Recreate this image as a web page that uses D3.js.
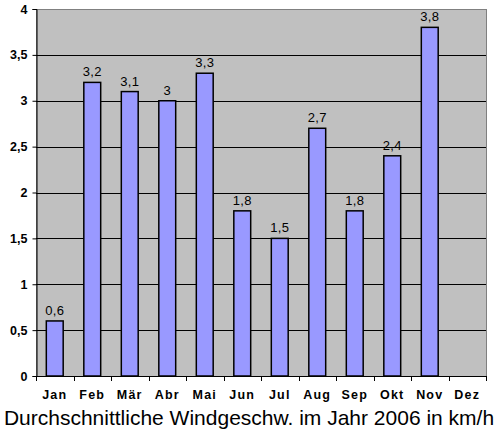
<!DOCTYPE html>
<html>
<head>
<meta charset="utf-8">
<script src="https://cdn.jsdelivr.net/npm/d3@7"></script>
<style>
  body { margin: 0; background: #fff; }
  svg { display: block; }
</style>
</head>
<body>
<svg width="500" height="429"></svg>
<script>
// Daten
const months = ["Jan", "Feb", "Mär", "Abr", "Mai", "Jun", "Jul", "Aug", "Sep", "Okt", "Nov", "Dez"];
const speeds = [0.6, 3.2, 3.1, 3.0, 3.3, 1.8, 1.5, 2.7, 1.8, 2.4, 3.8, null];
const yTicks = [0, 0.5, 1, 1.5, 2, 2.5, 3, 3.5, 4];
const title = "Durchschnittliche Windgeschw. im Jahr 2006 in km/h";

const svg = d3.select("svg");
const fmt = v => String(v).replace(".", ",");

const plotL = 36, plotR = 486, plotT = 9, plotB = 376;

const x = d3.scaleBand().domain(months).range([plotL, plotR]).paddingInner(0.55).paddingOuter(0.275);
const y = d3.scaleLinear().domain([0, 4]).range([plotB, plotT]);

// Plotfläche
svg.append("rect")
  .attr("x", plotL + 0.5).attr("y", plotT + 0.5)
  .attr("width", plotR - plotL).attr("height", plotB - plotT)
  .attr("fill", "#c0c0c0")
  .attr("stroke", "#808080")
  .attr("stroke-width", 1);

// Gitterlinien
svg.append("g")
  .selectAll("line")
  .data(yTicks.filter(t => t > 0 && t < 4))
  .join("line")
  .attr("x1", plotL).attr("x2", plotR)
  .attr("y1", d => Math.round(y(d)) + 0.5)
  .attr("y2", d => Math.round(y(d)) + 0.5)
  .attr("stroke", "#000")
  .attr("stroke-width", 1);

// Balken
const data = months.map((m, i) => ({ m, v: speeds[i] })).filter(d => d.v != null);

svg.append("g")
  .selectAll("rect")
  .data(data)
  .join("rect")
  .attr("x", d => x(d.m))
  .attr("y", d => y(d.v))
  .attr("width", x.bandwidth())
  .attr("height", d => plotB - y(d.v))
  .attr("fill", "#9999ff")
  .attr("stroke", "#000")
  .attr("stroke-width", 1.5);

// Wertbeschriftung
svg.append("g")
  .selectAll("text")
  .data(data)
  .join("text")
  .attr("x", d => x(d.m) + x.bandwidth() / 2)
  .attr("y", d => y(d.v) - 6)
  .attr("text-anchor", "middle")
  .attr("font-family", "Liberation Sans, Arial, sans-serif")
  .attr("font-size", 13)
  .attr("letter-spacing", 0.3)
  .attr("fill", "#000")
  .text(d => fmt(d.v));

// Y-Achse
const yAxis = svg.append("g")
  .attr("transform", `translate(${plotL + 0.5},0)`)
  .call(d3.axisLeft(y).tickValues(yTicks).tickSize(4).tickPadding(5).tickFormat(fmt));
yAxis.select(".domain").attr("stroke", "#000");
yAxis.selectAll(".tick line").attr("stroke", "#000");
yAxis.selectAll("text")
  .attr("font-family", "Liberation Sans, Arial, sans-serif")
  .attr("font-size", 12.5)
  .attr("font-weight", "bold")
  .attr("fill", "#000");

// X-Achse
const xEdge = d3.scaleLinear().domain([0, months.length]).range([plotL, plotR]);
const xAxisG = svg.append("g");
xAxisG.append("line")
  .attr("x1", plotL).attr("x2", plotR)
  .attr("y1", plotB + 0.5).attr("y2", plotB + 0.5)
  .attr("stroke", "#000");
xAxisG.selectAll("line.tick")
  .data(d3.range(months.length + 1))
  .join("line")
  .attr("class", "tick")
  .attr("x1", d => Math.round(xEdge(d)) + 0.5)
  .attr("x2", d => Math.round(xEdge(d)) + 0.5)
  .attr("y1", plotB).attr("y2", plotB + 5)
  .attr("stroke", "#000");
xAxisG.selectAll("text")
  .data(months)
  .join("text")
  .attr("x", d => x(d) + x.bandwidth() / 2)
  .attr("y", 399)
  .attr("text-anchor", "middle")
  .attr("font-family", "Liberation Sans, Arial, sans-serif")
  .attr("font-size", 12.5)
  .attr("font-weight", "bold")
  .attr("letter-spacing", 1.2)
  .text(d => d);

// Titel
svg.append("text")
  .attr("x", 249)
  .attr("y", 425)
  .attr("text-anchor", "middle")
  .attr("font-family", "Liberation Sans, Arial, sans-serif")
  .attr("font-size", 21)
  .attr("fill", "#000")
  .text(title);
</script>
</body>
</html>
